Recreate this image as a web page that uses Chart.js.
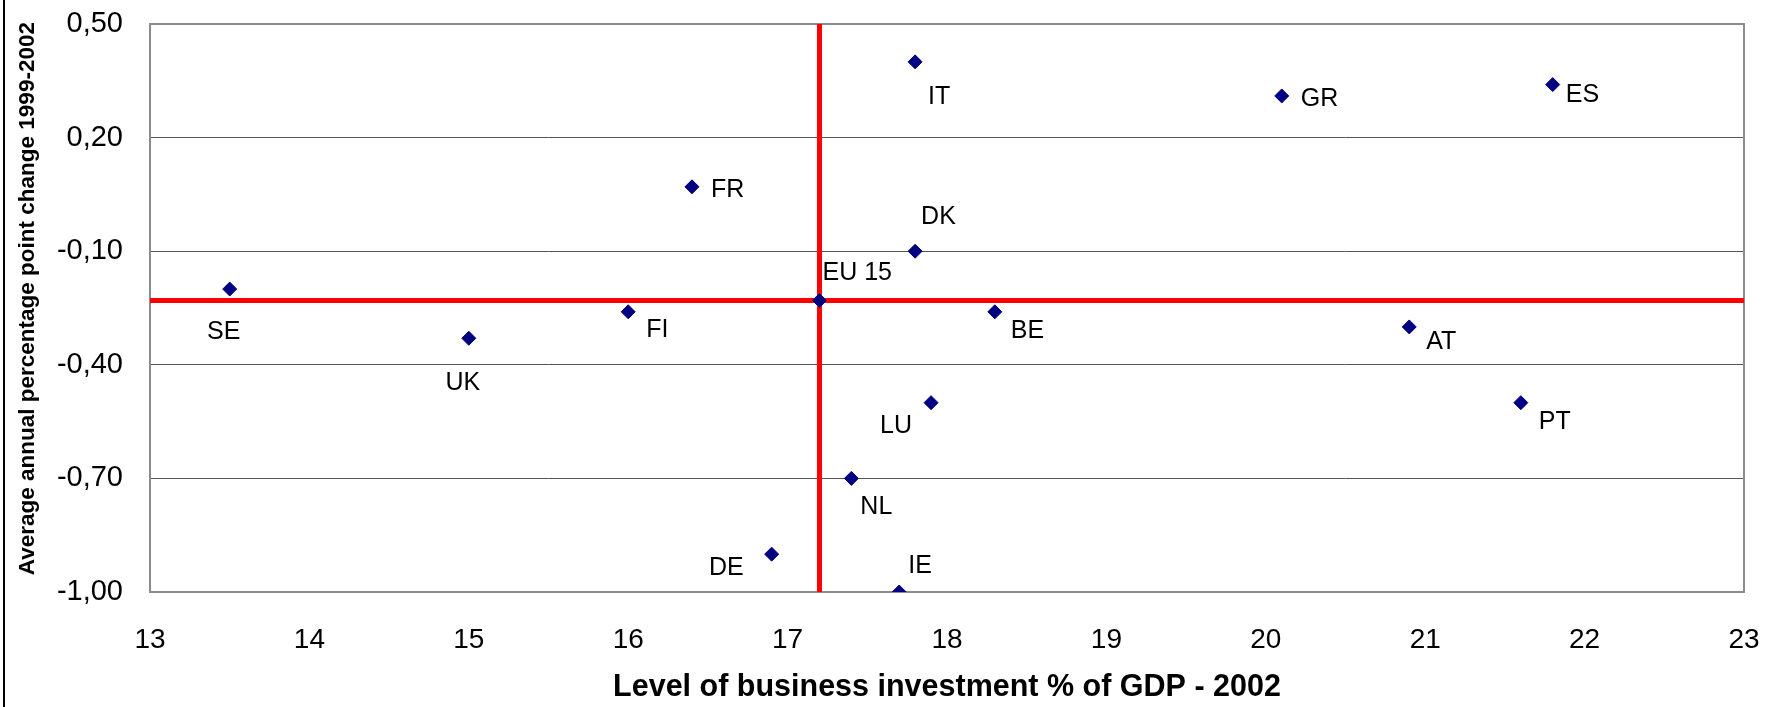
<!DOCTYPE html>
<html>
<head>
<meta charset="utf-8">
<script src="https://cdn.jsdelivr.net/npm/chart.js@4.4.1/dist/chart.umd.min.js"></script>
<style>
html,body{margin:0;padding:0;background:#fff;}
#wrap{position:relative;width:1769px;height:707px;}
#wrap:before{content:'';position:absolute;left:3px;top:0;bottom:0;border-left:2px solid #000;z-index:2;}
canvas{display:block;}
</style>
</head>
<body>
<div id="wrap"><canvas id="c" width="1769" height="707"></canvas></div>
<script>
const countries=['SE','UK','FI','FR','EU 15','DE','IT','DK','NL','LU','IE','BE','GR','ES','AT','PT'];
const investment=[13.5,15.0,16.0,16.4,17.2,16.9,17.8,17.8,17.4,17.9,17.7,18.3,20.1,21.8,20.9,21.6];
const change=[-0.20,-0.33,-0.26,0.07,-0.23,-0.90,0.40,-0.10,-0.70,-0.50,-1.00,-0.26,0.31,0.34,-0.30,-0.50];
const xMin=13,xMax=23,yMin=-1.0,yMax=0.5,yStep=0.3;

/* where each label sits next to its marker: [dx,dy,align] */
const labelPos={
  'SE':[-6,43,'center'],'UK':[-6,45,'center'],'FI':[18,18,'left'],'FR':[19,3,'left'],
  'EU 15':[3,-27,'left'],'DE':[-28,14,'right'],'IT':[13,35,'left'],'DK':[6,-34,'left'],
  'NL':[9,29,'left'],'LU':[-19,23,'right'],'IE':[9,-26,'left'],'BE':[16,19,'left'],
  'GR':[19,3,'left'],'ES':[13,11,'left'],'AT':[17,15,'left'],'PT':[18,19,'left']
};

const FONT='"Liberation Sans", Arial, sans-serif';
const iEU=countries.indexOf('EU 15');
const points=investment.map((x,i)=>({x,y:change[i]}));

function noOverflow(s){s.paddingTop=0;s.paddingBottom=0;s.paddingLeft=0;s.paddingRight=0;}

/* marco del área */
Chart.register({
  id:'plotFrame',
  beforeDatasetsDraw(c){
    const {left,top,right,bottom}=c.chartArea;
    c.ctx.save();
    c.ctx.strokeStyle='#8c8c8c';c.ctx.lineWidth=2;
    c.ctx.strokeRect(left,top,right-left,bottom-top);
    c.ctx.restore();
  }
});

/* etiquetas de países */
Chart.register({
  id:'countryLabels',
  afterDatasetsDraw(c){
    const meta=c.getDatasetMeta(0),g=c.ctx;
    g.save();
    g.font='25px '+FONT;g.fillStyle='#000';g.textBaseline='middle';
    meta.data.forEach((pt,i)=>{
      const p=labelPos[countries[i]]||[12,0,'left'];
      g.textAlign=p[2];
      g.fillText(countries[i],pt.x+p[0],pt.y+p[1]);
    });
    g.restore();
  }
});

new Chart(document.getElementById('c'),{
  type:'scatter',
  data:{datasets:[
    {data:points,pointStyle:'rectRot',pointRadius:7,pointHoverRadius:7,backgroundColor:'#000080',borderColor:'#000080',borderWidth:1,order:0},
    {data:[{x:investment[iEU],y:yMin},{x:investment[iEU],y:yMax}],showLine:true,borderColor:'#ff0000',borderWidth:5,pointRadius:0,order:1},
    {data:[{x:xMin,y:change[iEU]},{x:xMax,y:change[iEU]}],showLine:true,borderColor:'#ff0000',borderWidth:5,pointRadius:0,order:1}
  ]},
  options:{
    responsive:false,animation:false,
    layout:{padding:{left:0,top:24,right:25,bottom:0}},
    plugins:{legend:{display:false},tooltip:{enabled:false}},
    scales:{
      x:{
        type:'linear',min:xMin,max:xMax,
        afterFit(s){s.height=115;noOverflow(s);},
        ticks:{stepSize:1,color:'#000',font:{family:FONT,size:28},padding:31,maxRotation:0},
        grid:{display:false,drawTicks:false},
        border:{display:false},
        title:{display:true,text:'Level of business investment % of GDP - 2002',color:'#000',font:{family:FONT,size:30.5,weight:'bold',lineHeight:1},padding:{top:0,bottom:4}}
      },
      y:{
        type:'linear',min:yMin,max:yMax,
        afterFit(s){s.width=150;noOverflow(s);},
        afterBuildTicks(s){s.ticks=[];for(let v=yMin;v<=yMax+1e-9;v+=yStep)s.ticks.push({value:+v.toFixed(2)});},
        ticks:{color:'#000',font:{family:FONT,size:29},padding:27,callback:v=>(+v).toFixed(2).replace('.',',')},
        grid:{color:'#555',lineWidth:1,drawTicks:false},
        border:{display:false},
        title:{display:true,text:'   Average annual percentage point change 1999-2002',color:'#000',font:{family:FONT,size:22.5,weight:'bold',lineHeight:1.2},padding:{top:14,bottom:0}}
      }
    }
  }
});
</script>
</body>
</html>
